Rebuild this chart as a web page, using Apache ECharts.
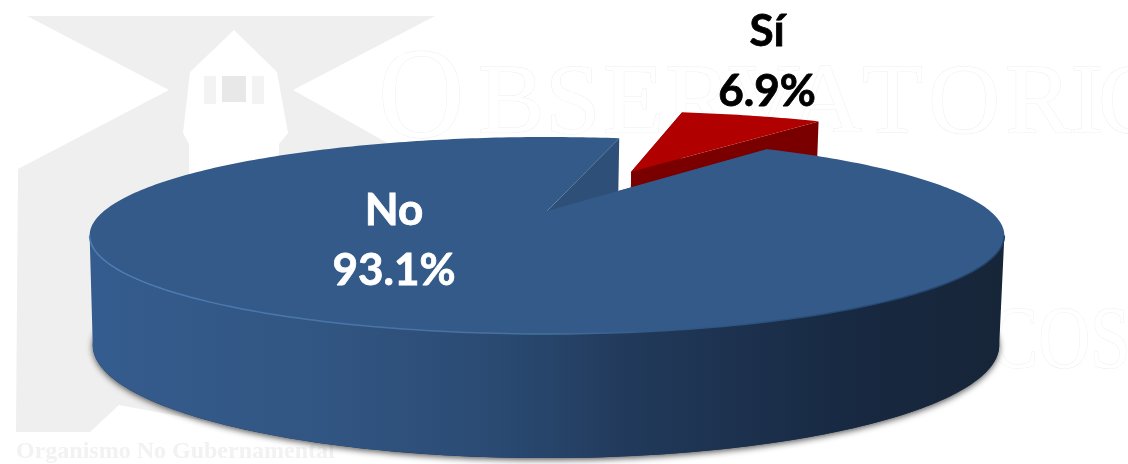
<!DOCTYPE html>
<html>
<head>
<meta charset="utf-8">
<title>Sí / No</title>
<script src="https://cdn.jsdelivr.net/npm/echarts@6/dist/echarts.min.js"></script>
<style>
  html, body { margin: 0; padding: 0; background: #fff; }
  #main { width: 1128px; height: 464px; }
</style>
</head>
<body>
<div id="main"></div>
<script>
// datos
const categories = ["Sí", "No"];
const values = [6.9, 93.1];
const sliceTop = ["#b00000", "#345a8a"];
const sliceCut = ["#7a0000", "#2e4f78"];
const labelColors = ["#000000", "#ffffff"];

// marca de agua
const markLetters = ["B", "S", "E", "R", "V", "A", "T", "O", "R", "I", "O"];
const markLetterX = [478, 545, 603, 665, 728, 790, 862, 928, 1005, 1070, 1098];

// layout del pastel en perspectiva
const firstAngle = 11.7;
const persp = 0.2487;
const topFace = { cx: 547, cy: 211, rx: 443, ry: 92.4 };
const baseFace = { cx: 546, cy: 317, rx: 439, ry: 106 };
const explode = [0.52, 0];
const labelPos = [[767, 62], [394, 241]];

const total = values.reduce((a, b) => a + b, 0);
// donde la elipse alcanza su ancho maximo
const tangent = (Math.acos(-persp) * 180) / Math.PI;

function project(face, a, b) {
  const w = 1 - persp * b;
  return [face.cx + (face.rx * a) / w, face.cy + (face.ry * b) / w];
}

function arcPoints(face, ox, oy, from, to) {
  const pts = [];
  const n = Math.ceil(Math.abs(to - from));
  for (let i = 0; i <= n; i++) {
    const t = ((from + ((to - from) * i) / n) * Math.PI) / 180;
    pts.push(project(face, ox + Math.sin(t), oy - Math.cos(t)));
  }
  return pts;
}

function sliceAngles(index) {
  let start = firstAngle;
  for (let i = 0; i < index; i++) start += (values[i] / total) * 360;
  return [start, start + (values[index] / total) * 360];
}

const wallFill = new echarts.graphic.LinearGradient(90, 0, 1000, 0, [
  { offset: 0, color: "#345c8e" },
  { offset: 0.25, color: "#325683" },
  { offset: 0.45, color: "#2a4a72" },
  { offset: 0.6, color: "#21395a" },
  { offset: 0.85, color: "#172840" },
  { offset: 1, color: "#172538" }
], true);
const rimStroke = new echarts.graphic.LinearGradient(90, 0, 1000, 0, [
  { offset: 0, color: "#4f7db3" },
  { offset: 0.5, color: "#44709f" },
  { offset: 0.62, color: "#345a8a" },
  { offset: 1, color: "#1f3f66" }
], true);

function renderSlice(params, api) {
  const i = params.dataIndex;
  const [from, to] = sliceAngles(i);
  const mid = (((from + to) / 2) * Math.PI) / 180;
  const ox = Math.sin(mid) * explode[i];
  const oy = -Math.cos(mid) * explode[i];
  const topArc = arcPoints(topFace, ox, oy, from, to);
  const baseArc = arcPoints(baseFace, ox, oy, from, to);
  const topApex = project(topFace, ox, oy);
  const baseApex = project(baseFace, ox, oy);
  const wallFrom = Math.max(from, tangent);
  const wallTo = Math.min(to, 360 - tangent);

  const children = [];
  // pared exterior, solo la parte que mira al frente
  if (wallTo > wallFrom) {
    children.push({
      type: "polygon",
      shape: { points: baseArc },
      style: { fill: "#1f3450", shadowBlur: 6, shadowOffsetY: 2, shadowColor: "rgba(0,0,0,0.65)" }
    });
    children.push({
      type: "polygon",
      shape: {
        points: arcPoints(topFace, ox, oy, wallFrom, wallTo)
          .concat(arcPoints(baseFace, ox, oy, wallTo, wallFrom))
      },
      style: { fill: wallFill }
    });
  }
  // cortes
  children.push({
    type: "polygon",
    shape: { points: [topApex, topArc[0], baseArc[0], baseApex] },
    style: { fill: sliceCut[i] }
  });
  children.push({
    type: "polygon",
    shape: { points: [topApex, topArc[topArc.length - 1], baseArc[baseArc.length - 1], baseApex] },
    style: { fill: sliceCut[i] }
  });
  // cara superior
  children.push({
    type: "polygon",
    shape: { points: [topApex].concat(topArc) },
    style: { fill: sliceTop[i] }
  });
  if (wallTo > wallFrom) {
    children.push({
      type: "polyline",
      shape: { points: arcPoints(topFace, ox, oy, wallFrom, wallTo) },
      style: { stroke: rimStroke, lineWidth: 1.5, fill: "none" }
    });
  }
  children.push({
    type: "text",
    x: labelPos[i][0],
    y: labelPos[i][1],
    style: {
      text: categories[i] + "\n" + api.value(0).toFixed(1) + "%",
      fill: labelColors[i],
      stroke: labelColors[i],
      lineWidth: 0.8,
      font: 'bold 44px Lato, "Noto Sans", sans-serif',
      lineHeight: 60,
      align: "center",
      verticalAlign: "middle"
    }
  });
  return { type: "group", children };
}

const chart = echarts.init(document.getElementById("main"), null, { renderer: "canvas" });

const grayMark = "#efefef";
const outline = { fill: "#ffffff", stroke: "#efefef", lineWidth: 1 };

chart.setOption({
  animation: false,
  backgroundColor: "#ffffff",
  graphic: [
    {
      type: "polygon",
      silent: true,
      shape: { points: [[27, 16], [435, 16], [293, 90], [400, 150], [400, 400], [90, 432], [16, 432], [18, 169], [169, 90]] },
      style: { fill: grayMark }
    },
    {
      type: "polygon",
      silent: true,
      shape: { points: [[90, 432], [119, 405], [200, 420], [300, 440], [120, 440]] },
      style: { fill: "#ffffff" }
    },
    {
      type: "polygon",
      silent: true,
      shape: { points: [[234, 30], [277, 72], [288, 133], [279, 144], [279, 300], [189, 300], [189, 144], [183, 133], [190, 72]] },
      style: { fill: "#ffffff" }
    },
    {
      type: "rect",
      silent: true,
      shape: { x: 222, y: 76, width: 24, height: 26 },
      style: { fill: "#e8e8e8" }
    },
    {
      type: "rect",
      silent: true,
      shape: { x: 204, y: 76, width: 12, height: 28 },
      style: { fill: "#f3f3f3" }
    },
    {
      type: "rect",
      silent: true,
      shape: { x: 252, y: 76, width: 12, height: 28 },
      style: { fill: "#f3f3f3" }
    },
    {
      type: "text",
      silent: true,
      x: 378,
      y: 168,
      scaleX: 0.92,
      style: Object.assign({ text: "O", font: '130px "Liberation Serif", serif', verticalAlign: "bottom" }, outline)
    },
    ...markLetters.map((ch, k) => ({
      type: "text",
      silent: true,
      x: markLetterX[k],
      y: 156,
      style: Object.assign({ text: ch, font: '100px "Liberation Serif", serif', verticalAlign: "bottom" }, outline)
    })),
    {
      type: "text",
      silent: true,
      x: 990,
      y: 388,
      scaleX: 0.82,
      style: Object.assign({ text: "COS", font: '88px "Liberation Serif", serif', verticalAlign: "bottom" }, outline)
    },
    {
      type: "text",
      silent: true,
      x: 16,
      y: 452,
      style: { text: "Organismo No Gubernamental", font: 'bold 24px "Liberation Serif", serif', fill: "#f2f2f2", verticalAlign: "middle" }
    }
  ],
  series: [
    {
      type: "custom",
      coordinateSystem: "none",
      silent: true,
      renderItem: renderSlice,
      data: values
    }
  ]
});
</script>
</body>
</html>
